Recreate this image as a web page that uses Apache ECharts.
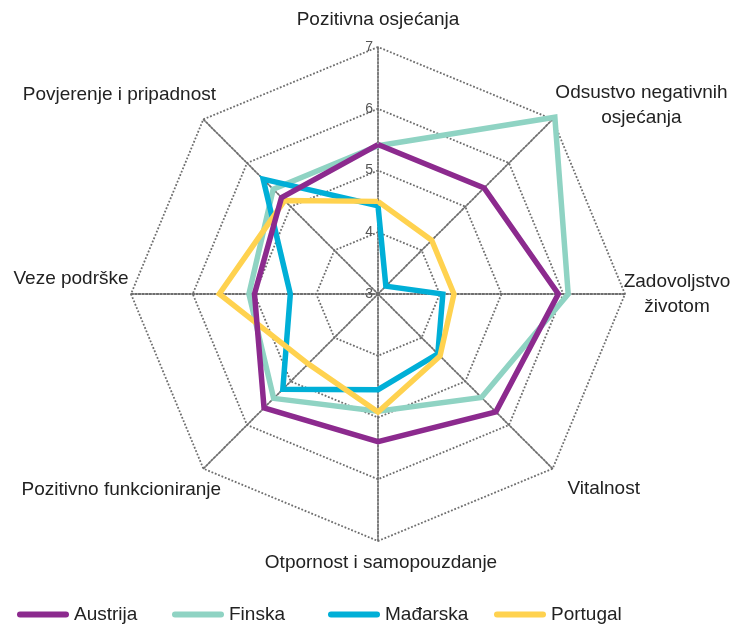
<!DOCTYPE html>
<html>
<head>
    <meta charset="utf-8">
    <title>Radar</title>
    <script src="https://cdn.jsdelivr.net/npm/echarts@6/dist/echarts.min.js"></script>
    <style>
        html, body {margin: 0; padding: 0; background: #fff;}
        #main {width: 732px; height: 626px;}
    </style>
</head>
<body>
<div id="main"></div>
<script type="text/javascript">
    // echarts radar goes counter-clockwise from the top, so the order here is CCW
    var indicatorNames = ['Pozitivna osjećanja', 'Povjerenje i pripadnost', 'Veze podrške',
        'Pozitivno funkcioniranje', 'Otpornost i samopouzdanje', 'Vitalnost',
        'Zadovoljstvo\nživotom', 'Odsustvo negativnih\nosjećanja'];
    var countries = ['Austrija', 'Finska', 'Mađarska', 'Portugal'];
    var austrija = [5.42, 5.21, 5.00, 5.61, 5.39, 5.70, 5.92, 5.43];
    var finska   = [5.40, 5.40, 5.09, 5.39, 4.90, 5.37, 6.08, 7.05];
    var madarska = [4.43, 5.63, 4.42, 5.18, 4.55, 4.37, 4.05, 3.18];
    var portugal = [4.50, 5.14, 5.57, 4.60, 4.91, 4.42, 4.23, 4.23];
    var scaleMin = 3, scaleMax = 7;

    var colors = ['#8c2a8e', '#8fd3c3', '#00afd7', '#ffd24f'];
    var zOrder = [5, 2, 3, 4];
    var legendLeft = [17, 172, 328, 494];
    // name placement: gap along the axis + extra (dx, dy) shift
    var nameGaps = [27, 0, 0, 0, 0, 0, 0, 19.5];
    var nameShift = [[0, 0], [-84, -25], [-60, -15], [-82, 21], [3, 22], [51, 20], [52, 0], [75, 0]];

    var rich = {};
    indicatorNames.forEach(function (n, i) {
        var lines = n.split('\n');
        var dx = nameShift[i][0], dy = nameShift[i][1];
        lines.forEach(function (l, j) {
            rich['n' + i + '_' + j] = {
                align: 'center',
                lineHeight: 25,
                padding: [
                    (j === 0 && dy > 0) ? 2 * dy : 0,
                    dx < 0 ? -2 * dx : 0,
                    (j === lines.length - 1 && dy < 0) ? -2 * dy : 0,
                    dx > 0 ? 2 * dx : 0
                ]
            };
        });
    });

    var indicator = indicatorNames.map(function (n, i) {
        var ind = {name: n, min: scaleMin, max: scaleMax};
        if (nameGaps[i]) {
            ind.nameGap = nameGaps[i];
        }
        if (i === 0) {
            ind.axisLabel = {show: true, color: '#555', fontSize: 14, margin: 5, fontFamily: 'Liberation Sans'};
        }
        return ind;
    });

    var dataSets = [austrija, finska, madarska, portugal];
    var series = countries.map(function (c, i) {
        return {
            name: c,
            type: 'radar',
            z: zOrder[i],
            symbol: 'none',
            itemStyle: {color: colors[i]},
            lineStyle: {color: colors[i], width: 5.5, join: 'miter'},
            data: [{name: c, value: dataSets[i]}]
        };
    });

    var legends = countries.map(function (c, i) {
        return {
            data: [c],
            left: legendLeft[i],
            top: 605,
            padding: 0,
            icon: 'path://M3,0H49A3,3,0,0,1,49,6H3A3,3,0,0,1,3,0Z',
            itemWidth: 52,
            itemHeight: 6,
            itemStyle: {borderWidth: 0},
            textStyle: {fontSize: 19, color: '#222', fontFamily: 'Liberation Sans'}
        };
    });

    var gridLine = {color: '#6e6e6e', type: [1.8, 1.8], width: 1.8};

    var myChart = echarts.init(document.getElementById('main'));
    myChart.setOption({
        animation: false,
        legend: legends,
        radar: {
            center: [378, 294],
            radius: 247,
            shape: 'polygon',
            splitNumber: 4,
            axisNameGap: 0,
            axisName: {
                color: '#222',
                fontSize: 19,
                lineHeight: 25,
                fontFamily: 'Liberation Sans',
                align: 'center',
                verticalAlign: 'middle',
                formatter: function (name) {
                    var i = indicatorNames.indexOf(name);
                    return name.split('\n').map(function (l, j) {
                        return '{n' + i + '_' + j + '|' + l + '}';
                    }).join('\n');
                },
                rich: rich
            },
            axisLabel: {show: false},
            axisTick: {show: false},
            axisLine: {lineStyle: gridLine},
            splitLine: {lineStyle: gridLine},
            splitArea: {show: false},
            indicator: indicator
        },
        series: series
    });
</script>
</body>
</html>
